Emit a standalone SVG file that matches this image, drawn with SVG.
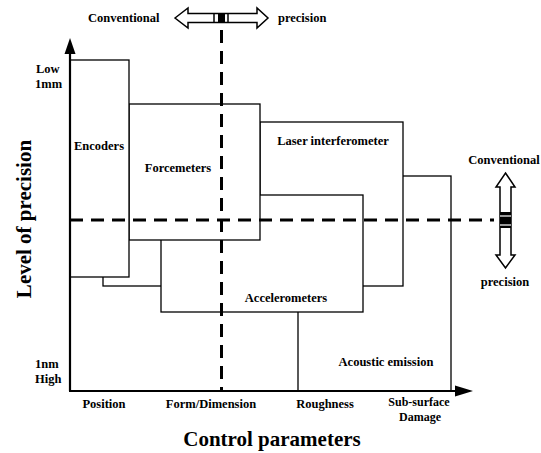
<svg xmlns="http://www.w3.org/2000/svg" width="541" height="453" viewBox="0 0 541 453">
<defs>
<style>
.box{fill:#fff;stroke:#000;stroke-width:1.3}
.t{font-family:"Liberation Serif","Times New Roman",serif;font-weight:bold;font-size:12.5px;fill:#000}
.s{font-size:12px}
.big{font-family:"Liberation Serif","Times New Roman",serif;font-weight:bold;font-size:21px;fill:#000}
.dash{stroke:#000;stroke-width:3;stroke-dasharray:13 8;fill:none}
.axis{stroke:#000;stroke-width:2.2;fill:none}
.harrow{fill:#fff;stroke:#000;stroke-width:1.5;stroke-linejoin:miter}
</style>
</defs>
<rect width="541" height="453" fill="#fff"/>
<g id="acoustic-emission">
<rect class="box" x="298" y="176" width="153" height="215"/>
</g>
<g id="laser-interferometer">
<rect class="box" x="260" y="122" width="143" height="164"/>
</g>
<g id="range-box">
<rect class="box" x="103" y="150" width="97" height="136"/>
</g>
<g id="accelerometers">
<rect class="box" x="161" y="195" width="202" height="117"/>
</g>
<g id="forcemeters">
<rect class="box" x="129" y="104" width="131" height="136"/>
</g>
<g id="encoders">
<rect class="box" x="70" y="60" width="59" height="217"/>
</g>
<g id="connectors">
<line class="dash" x1="221.5" y1="30" x2="221.5" y2="391"/>
<line class="dash" x1="70" y1="220" x2="494" y2="220"/>
<line class="axis" x1="70" y1="50" x2="70" y2="391"/>
<line class="axis" x1="69" y1="391" x2="458" y2="391"/>
<polygon points="70,38 75.5,54 64.5,54" fill="#000"/>
<polygon points="473,391 455,385.5 455,396.5" fill="#000"/>
</g>
<g id="arrow-top">
<polygon class="harrow" points="175,18 188,8 188,13.5 257,13.5 257,8 268,18 257,28 257,22.5 188,22.5 188,28"/>
<rect x="218" y="13.5" width="7" height="9" fill="#000"/>
<line x1="214" y1="13.5" x2="214" y2="22.5" stroke="#000" stroke-width="1.5"/>
<line x1="228" y1="13.5" x2="228" y2="22.5" stroke="#000" stroke-width="1.5"/>
</g>
<g id="arrow-right">
<polygon class="harrow" points="505.5,173 515,187 511,187 511,255 515,255 505.5,268 496,255 500,255 500,187 496,187"/>
<rect x="500" y="212" width="11" height="16" fill="#000"/>
<line x1="500" y1="216" x2="511" y2="216" stroke="#fff" stroke-width="1.2"/>
<line x1="500" y1="225" x2="511" y2="225" stroke="#fff" stroke-width="1.2"/>
</g>
<g id="labels">
<text class="t" x="88" y="22">Conventional</text>
<text class="t" x="278" y="22">precision</text>
<text class="t" x="36" y="73">Low</text>
<text class="t" x="35" y="88">1mm</text>
<text class="t" x="35" y="368">1nm</text>
<text class="t" x="35" y="383">High</text>
<text class="t" x="99" y="150" text-anchor="middle">Encoders</text>
<text class="t" x="178" y="172" text-anchor="middle">Forcemeters</text>
<text class="t" x="333" y="145" text-anchor="middle">Laser interferometer</text>
<text class="t" x="286" y="302" text-anchor="middle">Accelerometers</text>
<text class="t" x="386" y="366" text-anchor="middle">Acoustic emission</text>
<text class="t" x="504" y="164" text-anchor="middle">Conventional</text>
<text class="t" x="505" y="286" text-anchor="middle">precision</text>
<text class="t" x="104" y="408" text-anchor="middle">Position</text>
<text class="t" x="211" y="408" text-anchor="middle">Form/Dimension</text>
<text class="t" x="325" y="408" text-anchor="middle">Roughness</text>
<text class="t s" x="419" y="406" text-anchor="middle">Sub-surface</text>
<text class="t s" x="420" y="421" text-anchor="middle">Damage</text>
<text class="big" x="272" y="446" text-anchor="middle">Control parameters</text>
<text class="big" transform="translate(31,219) rotate(-90)" text-anchor="middle">Level of precision</text>
</g>
</svg>
